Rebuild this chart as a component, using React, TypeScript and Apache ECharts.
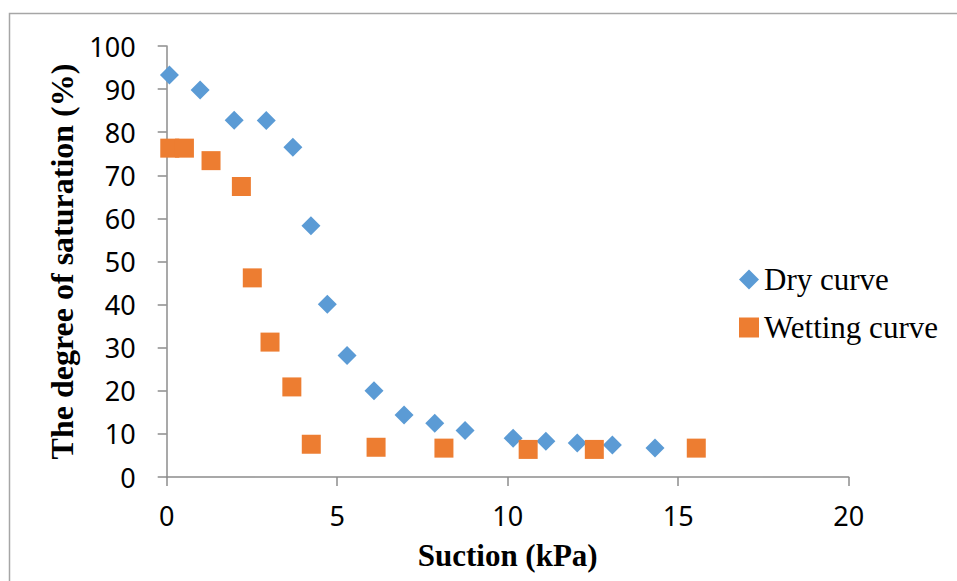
import React, { useEffect, useRef } from "react";
import * as echarts from "echarts";

const dryX = [0.08, 0.98, 1.98, 2.92, 3.70, 4.23, 4.71, 5.29, 6.08, 6.96, 7.86, 8.75, 10.16, 11.12, 12.04, 13.07, 14.32];
const dryY = [93.3, 89.8, 82.8, 82.7, 76.5, 58.3, 40.1, 28.2, 20.0, 14.4, 12.5, 10.8, 9.0, 8.3, 7.9, 7.4, 6.7];
const wetX = [0.09, 0.52, 1.30, 2.19, 2.51, 3.03, 3.67, 4.24, 6.14, 8.13, 10.6, 12.54, 15.53];
const wetY = [76.3, 76.3, 73.4, 67.4, 46.2, 31.3, 20.9, 7.6, 6.9, 6.7, 6.4, 6.4, 6.7];
const seriesNames = ["Dry curve", "Wetting curve"];
const xTitle = "Suction (kPa)";
const yTitle = "The degree of saturation (%)";

export default function App() {
  const ref = useRef<HTMLDivElement>(null);
  useEffect(() => {
    if (!ref.current) return;
    const chart = echarts.init(ref.current, null, { renderer: "svg" });
    const axisColor = "#8c8c8c";
    const labelFont = { fontFamily: "Noto Sans", fontSize: 27, color: "#000" };
    const titleFont = { fontFamily: "Liberation Serif", fontSize: 31, fontWeight: "bold" as const, color: "#000" };
    chart.setOption({
      animation: false,
      backgroundColor: "#fff",
      graphic: [
        {
          type: "rect",
          shape: { x: 9.5, y: 13.5, width: 1000, height: 700 },
          style: { fill: "none", stroke: "#a6a6a6", lineWidth: 1.5 },
          silent: true,
          z: -10,
        },
      ],
      grid: { left: 166.7, right: 108.3, top: 46, bottom: 104, containLabel: false },
      legend: {
        orient: "vertical",
        left: 739,
        top: 264,
        padding: 0,
        itemGap: 17,
        itemWidth: 20,
        itemHeight: 20,
        textStyle: { fontFamily: "Liberation Serif", fontSize: 31, color: "#000", padding: [0, 0, 0, 0] },
        data: [
          { name: seriesNames[0], icon: "diamond" },
          { name: seriesNames[1], icon: "rect" },
        ],
      },
      xAxis: {
        type: "value",
        min: 0,
        max: 20,
        interval: 5,
        name: xTitle,
        nameLocation: "middle",
        nameGap: 63,
        nameTextStyle: titleFont,
        axisLine: { show: true, onZero: false, lineStyle: { color: axisColor, width: 1.5 } },
        axisTick: { show: true, inside: false, length: 9, lineStyle: { color: axisColor, width: 1.5 } },
        axisLabel: { ...labelFont, margin: 25 },
        splitLine: { show: false },
      },
      yAxis: {
        type: "value",
        min: 0,
        max: 100,
        interval: 10,
        name: yTitle,
        nameLocation: "middle",
        nameGap: 87,
        nameTextStyle: { ...titleFont, fontSize: 32 },
        axisLine: { show: true, onZero: false, lineStyle: { color: axisColor, width: 1.5 } },
        axisTick: { show: true, inside: false, length: 9, lineStyle: { color: axisColor, width: 1.5 } },
        axisLabel: { ...labelFont, margin: 31 },
        splitLine: { show: false },
      },
      series: [
        {
          name: seriesNames[0],
          type: "scatter",
          symbol: "diamond",
          symbolSize: 19,
          itemStyle: { color: "#5B9BD5", opacity: 1 },
          data: dryX.map((x, i) => [x, dryY[i]]),
          z: 2,
        },
        {
          name: seriesNames[1],
          type: "scatter",
          symbol: "rect",
          symbolSize: 19,
          itemStyle: { color: "#ED7D31", opacity: 1 },
          data: wetX.map((x, i) => [x, wetY[i]]),
          z: 3,
        },
      ],
    });
    return () => chart.dispose();
  }, []);
  return (
    <div
      ref={ref}
      style={{ position: "fixed", left: 0, top: 0, width: 957, height: 581, background: "#fff" }}
    />
  );
}
